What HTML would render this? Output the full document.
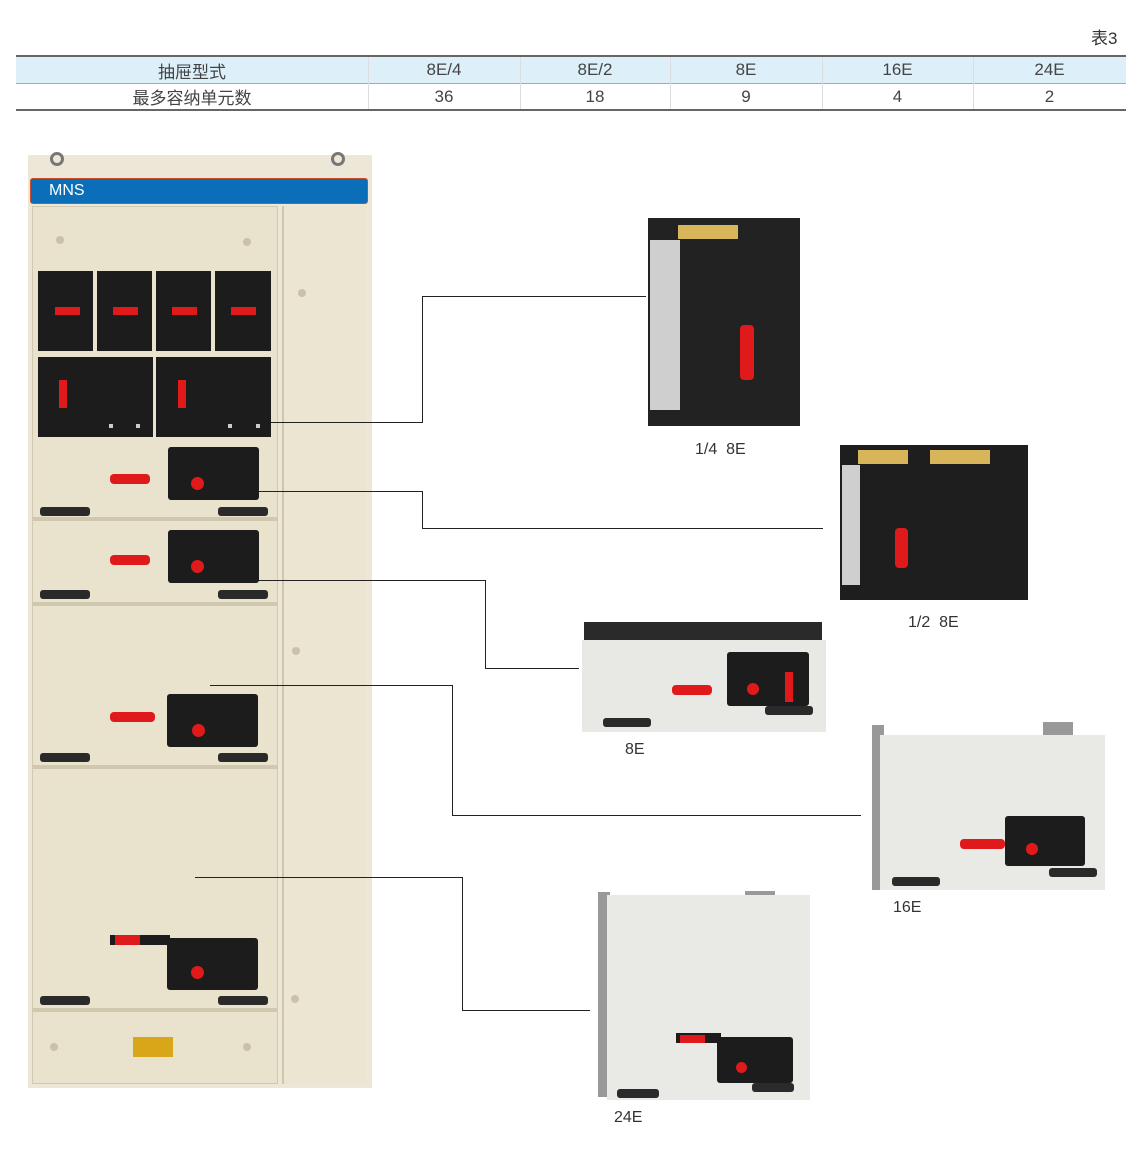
<!DOCTYPE html>
<html><head><meta charset="utf-8"><style>
*{margin:0;padding:0;box-sizing:border-box}
body{width:1140px;height:1153px;background:#fff;position:relative;overflow:hidden;font-family:"Liberation Sans","Noto Sans CJK SC",sans-serif;color:#333}
.a{position:absolute}
.t{font-size:16px;color:#333}
.k{background:#1c1c1c}
.r{background:#e01a1a}
.h{position:absolute;height:1px;background:#222}
.v{position:absolute;width:1px;background:#222}
.cell{position:absolute;top:0;height:100%;display:flex;align-items:center;justify-content:center;font-size:17px;color:#444}
.grip{position:absolute;background:#2a2a2a;border-radius:3px;height:9px}
.dot{position:absolute;width:8px;height:8px;border-radius:50%;background:#c9c1a8}
</style></head><body>
<div class="a t" style="left:1091px;top:24px;font-size:17px">表3</div>
<div class="a" style="left:16px;top:55px;width:1110px;height:2px;background:#666"></div>
<div class="a" style="left:16px;top:57px;width:1110px;height:26px;background:#ddf0fa">
 <div class="cell" style="left:0;width:352px">抽屉型式</div>
 <div class="cell" style="left:352px;width:152px">8E/4</div>
 <div class="cell" style="left:504px;width:150px">8E/2</div>
 <div class="cell" style="left:654px;width:152px">8E</div>
 <div class="cell" style="left:806px;width:151px">16E</div>
 <div class="cell" style="left:957px;width:153px">24E</div>
</div>
<div class="a" style="left:16px;top:83px;width:1110px;height:1px;background:#aaa"></div>
<div class="a" style="left:16px;top:84px;width:1110px;height:25px">
 <div class="cell" style="left:0;width:352px">最多容纳单元数</div>
 <div class="cell" style="left:352px;width:152px">36</div>
 <div class="cell" style="left:504px;width:150px">18</div>
 <div class="cell" style="left:654px;width:152px">9</div>
 <div class="cell" style="left:806px;width:151px">4</div>
 <div class="cell" style="left:957px;width:153px">2</div>
</div>
<div class="a" style="left:16px;top:109px;width:1110px;height:2px;background:#666"></div>
<div class="v" style="left:368px;top:57px;height:52px;background:#ddd"></div>
<div class="v" style="left:520px;top:57px;height:52px;background:#ddd"></div>
<div class="v" style="left:670px;top:57px;height:52px;background:#ddd"></div>
<div class="v" style="left:822px;top:57px;height:52px;background:#ddd"></div>
<div class="v" style="left:973px;top:57px;height:52px;background:#ddd"></div>

<!-- cabinet -->
<div class="a" style="left:28px;top:155px;width:344px;height:933px;background:#ece7d6"></div>
<div class="a" style="left:50px;top:152px;width:14px;height:14px;border:3px solid #777;border-radius:50%"></div>
<div class="a" style="left:331px;top:152px;width:14px;height:14px;border:3px solid #777;border-radius:50%"></div>
<div class="a" style="left:30px;top:178px;width:338px;height:26px;background:#0a6fb8;border:1px solid #c94a2a;border-radius:3px;color:#fff;font-size:16px;padding:3px 0 0 18px">MNS</div>
<div class="a" style="left:32px;top:206px;width:246px;height:878px;background:#e9e2cc;border:1px solid #d0c8b0"></div>
<div class="a" style="left:282px;top:206px;width:84px;height:878px;background:#ebe5d2;border-left:2px solid #cfc6ac"></div>
<div class="dot" style="left:56px;top:236px"></div><div class="dot" style="left:243px;top:238px"></div>
<div class="dot" style="left:298px;top:289px"></div><div class="dot" style="left:292px;top:647px"></div><div class="dot" style="left:291px;top:995px"></div>
<div class="dot" style="left:50px;top:1043px"></div><div class="dot" style="left:243px;top:1043px"></div>
<!-- black rows -->
<div class="a k" style="left:38px;top:271px;width:55px;height:80px"></div>
<div class="a k" style="left:97px;top:271px;width:55px;height:80px"></div>
<div class="a k" style="left:156px;top:271px;width:55px;height:80px"></div>
<div class="a k" style="left:215px;top:271px;width:56px;height:80px"></div>
<div class="a r" style="left:55px;top:307px;width:25px;height:8px"></div>
<div class="a r" style="left:113px;top:307px;width:25px;height:8px"></div>
<div class="a r" style="left:172px;top:307px;width:25px;height:8px"></div>
<div class="a r" style="left:231px;top:307px;width:25px;height:8px"></div>
<div class="a k" style="left:38px;top:357px;width:115px;height:80px"></div>
<div class="a k" style="left:156px;top:357px;width:115px;height:80px"></div>
<div class="a r" style="left:59px;top:380px;width:8px;height:28px"></div>
<div class="a r" style="left:178px;top:380px;width:8px;height:28px"></div>
<div class="a" style="left:109px;top:424px;width:4px;height:4px;background:#ccc"></div>
<div class="a" style="left:136px;top:424px;width:4px;height:4px;background:#ccc"></div>
<div class="a" style="left:228px;top:424px;width:4px;height:4px;background:#ccc"></div>
<div class="a" style="left:256px;top:424px;width:4px;height:4px;background:#ccc"></div>
<!-- drawers -->
<div class="a" style="left:32px;top:517px;width:246px;height:4px;background:#cfc7ae"></div>
<div class="a" style="left:32px;top:602px;width:246px;height:4px;background:#cfc7ae"></div>
<div class="a" style="left:32px;top:765px;width:246px;height:4px;background:#cfc7ae"></div>
<div class="a" style="left:32px;top:1008px;width:246px;height:4px;background:#cfc7ae"></div>
<div class="a k" style="left:168px;top:447px;width:91px;height:53px;border-radius:3px"></div>
<div class="a k" style="left:168px;top:530px;width:91px;height:53px;border-radius:3px"></div>
<div class="a k" style="left:167px;top:694px;width:91px;height:53px;border-radius:3px"></div>
<div class="a k" style="left:167px;top:938px;width:91px;height:52px;border-radius:3px"></div>
<div class="a r" style="left:110px;top:474px;width:40px;height:10px;border-radius:4px"></div>
<div class="a r" style="left:110px;top:555px;width:40px;height:10px;border-radius:4px"></div>
<div class="a r" style="left:110px;top:712px;width:45px;height:10px;border-radius:4px"></div>
<div class="a k" style="left:110px;top:935px;width:60px;height:10px"></div>
<div class="a r" style="left:115px;top:935px;width:25px;height:10px"></div>
<div class="a r" style="left:191px;top:477px;width:13px;height:13px;border-radius:50%"></div>
<div class="a r" style="left:191px;top:560px;width:13px;height:13px;border-radius:50%"></div>
<div class="a r" style="left:192px;top:724px;width:13px;height:13px;border-radius:50%"></div>
<div class="a r" style="left:191px;top:966px;width:13px;height:13px;border-radius:50%"></div>
<div class="grip" style="left:40px;top:507px;width:50px"></div><div class="grip" style="left:218px;top:507px;width:50px"></div>
<div class="grip" style="left:40px;top:590px;width:50px"></div><div class="grip" style="left:218px;top:590px;width:50px"></div>
<div class="grip" style="left:40px;top:753px;width:50px"></div><div class="grip" style="left:218px;top:753px;width:50px"></div>
<div class="grip" style="left:40px;top:996px;width:50px"></div><div class="grip" style="left:218px;top:996px;width:50px"></div>
<div class="a" style="left:133px;top:1037px;width:40px;height:20px;background:#d9a61a"></div>

<!-- connectors -->
<div class="h" style="left:270px;top:422px;width:153px"></div><div class="v" style="left:422px;top:296px;height:127px"></div><div class="h" style="left:422px;top:296px;width:224px"></div>
<div class="h" style="left:258px;top:491px;width:165px"></div><div class="v" style="left:422px;top:491px;height:38px"></div><div class="h" style="left:422px;top:528px;width:401px"></div>
<div class="h" style="left:258px;top:580px;width:228px"></div><div class="v" style="left:485px;top:580px;height:89px"></div><div class="h" style="left:485px;top:668px;width:94px"></div>
<div class="h" style="left:210px;top:685px;width:243px"></div><div class="v" style="left:452px;top:685px;height:131px"></div><div class="h" style="left:452px;top:815px;width:409px"></div>
<div class="h" style="left:195px;top:877px;width:268px"></div><div class="v" style="left:462px;top:877px;height:134px"></div><div class="h" style="left:462px;top:1010px;width:128px"></div>

<!-- 1/4 8E -->
<div class="a" style="left:648px;top:218px;width:152px;height:208px;background:#222"></div>
<div class="a" style="left:650px;top:240px;width:30px;height:170px;background:#cfcfcf"></div>
<div class="a" style="left:678px;top:225px;width:60px;height:14px;background:#d8b45a"></div>
<div class="a r" style="left:740px;top:325px;width:14px;height:55px;border-radius:4px"></div>
<div class="a t" style="left:695px;top:441px">1/4&nbsp; 8E</div>
<!-- 1/2 8E -->
<div class="a" style="left:840px;top:445px;width:188px;height:155px;background:#1e1e1e"></div>
<div class="a" style="left:842px;top:465px;width:18px;height:120px;background:#cfcfcf"></div>
<div class="a" style="left:858px;top:450px;width:50px;height:14px;background:#d8b45a"></div>
<div class="a" style="left:930px;top:450px;width:60px;height:14px;background:#d8b45a"></div>
<div class="a r" style="left:895px;top:528px;width:13px;height:40px;border-radius:4px"></div>
<div class="a t" style="left:908px;top:614px">1/2&nbsp; 8E</div>
<!-- 8E -->
<div class="a" style="left:584px;top:622px;width:238px;height:22px;background:#2a2a2a"></div>
<div class="a" style="left:582px;top:640px;width:244px;height:92px;background:#e8e9e4"></div>
<div class="a k" style="left:727px;top:652px;width:82px;height:54px;border-radius:3px"></div>
<div class="a r" style="left:672px;top:685px;width:40px;height:10px;border-radius:4px"></div>
<div class="a r" style="left:747px;top:683px;width:12px;height:12px;border-radius:50%"></div>
<div class="a r" style="left:785px;top:672px;width:8px;height:30px"></div>
<div class="grip" style="left:603px;top:718px;width:48px"></div><div class="grip" style="left:765px;top:706px;width:48px"></div>
<div class="a t" style="left:625px;top:741px">8E</div>
<!-- 16E -->
<div class="a" style="left:872px;top:725px;width:12px;height:165px;background:#999"></div>
<div class="a" style="left:1043px;top:722px;width:30px;height:14px;background:#999"></div>
<div class="a" style="left:880px;top:735px;width:225px;height:155px;background:#e9eae6"></div>
<div class="a k" style="left:1005px;top:816px;width:80px;height:50px;border-radius:3px"></div>
<div class="a r" style="left:960px;top:839px;width:45px;height:10px;border-radius:4px"></div>
<div class="a r" style="left:1026px;top:843px;width:12px;height:12px;border-radius:50%"></div>
<div class="grip" style="left:892px;top:877px;width:48px"></div><div class="grip" style="left:1049px;top:868px;width:48px"></div>
<div class="a t" style="left:893px;top:899px">16E</div>
<!-- 24E -->
<div class="a" style="left:598px;top:892px;width:12px;height:205px;background:#999"></div>
<div class="a" style="left:745px;top:891px;width:30px;height:8px;background:#999"></div>
<div class="a" style="left:607px;top:895px;width:203px;height:205px;background:#e9eae6"></div>
<div class="a k" style="left:717px;top:1037px;width:76px;height:46px;border-radius:3px"></div>
<div class="a k" style="left:676px;top:1033px;width:45px;height:10px"></div>
<div class="a r" style="left:680px;top:1035px;width:25px;height:8px"></div>
<div class="a r" style="left:736px;top:1062px;width:11px;height:11px;border-radius:50%"></div>
<div class="grip" style="left:617px;top:1089px;width:42px"></div><div class="grip" style="left:752px;top:1083px;width:42px"></div>
<div class="a t" style="left:614px;top:1109px">24E</div>
</body></html>
